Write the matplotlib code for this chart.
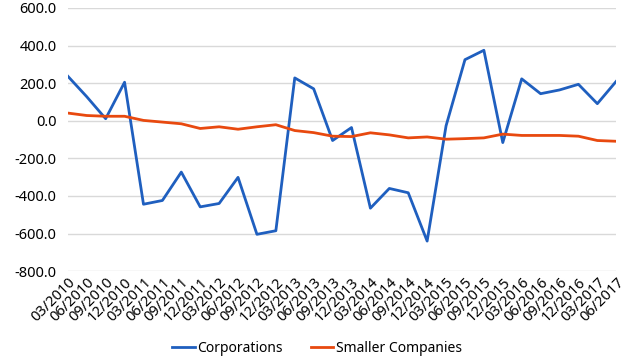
import matplotlib
matplotlib.use("Agg")
import matplotlib.pyplot as plt
from matplotlib.ticker import FuncFormatter

plt.rcParams['font.family'] = ['Noto Sans', 'DejaVu Sans']

quarters = ["03/2010", "06/2010", "09/2010", "12/2010",
            "03/2011", "06/2011", "09/2011", "12/2011",
            "03/2012", "06/2012", "09/2012", "12/2012",
            "03/2013", "06/2013", "09/2013", "12/2013",
            "03/2014", "06/2014", "09/2014", "12/2014",
            "03/2015", "06/2015", "09/2015", "12/2015",
            "03/2016", "06/2016", "09/2016", "12/2016",
            "03/2017", "06/2017"]

corporations = [237, 128, 11, 205,
                -444, -424, -273, -458,
                -440, -301, -604, -585,
                228, 170, -105, -36,
                -465, -360, -383, -640,
                -27, 325, 375, -116,
                223, 144, 164, 194,
                91, 210]

smaller_companies = [41, 28, 24, 24,
                     2, -7, -16, -41,
                     -32, -45, -32, -21,
                     -52, -63, -82, -84,
                     -64, -75, -91, -86,
                     -98, -95, -91, -71,
                     -78, -78, -78, -82,
                     -105, -109]

fig = plt.figure(figsize=(6.34, 3.63), dpi=100)
ax = fig.add_axes([0.107, 0.253, 0.865, 0.725])

x = list(range(len(quarters)))
ax.plot(x, corporations, color="#1F5FBF", lw=2.0, label="Corporations", zorder=3)
ax.plot(x, smaller_companies, color="#E8490F", lw=2.0, label="Smaller Companies", zorder=3)

ax.set_xlim(0, len(quarters) - 1)
ax.set_ylim(-800, 600)
ax.set_yticks(range(-800, 601, 200))
ax.yaxis.set_major_formatter(FuncFormatter(lambda v, p: f"{v:.1f}"))
ax.grid(axis="y", color="#D9D9D9", lw=1.0, zorder=0)
for s in ax.spines.values():
    s.set_visible(False)
ax.tick_params(axis="both", length=0)
ax.tick_params(axis="y", labelsize=10.5, pad=8, labelcolor="#000000")
ax.set_xticks(x)
ax.set_xticklabels(quarters, rotation=45, ha="right", rotation_mode="anchor", fontsize=10.5)
ax.tick_params(axis="x", pad=3)

leg = fig.legend(loc="center", bbox_to_anchor=(0.5, 0.041), ncol=2, frameon=False,
                 fontsize=10, handlelength=1.6, columnspacing=2.0, handletextpad=0.2)

fig.savefig("out.png", dpi=100)
